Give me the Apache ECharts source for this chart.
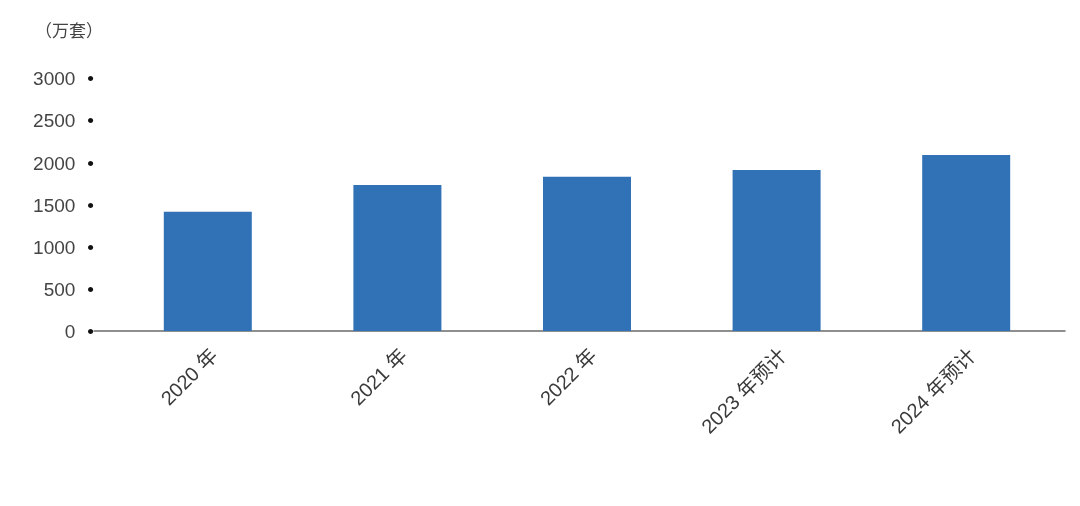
<!DOCTYPE html>
<html>
<head>
<meta charset="utf-8">
<script src="https://cdn.jsdelivr.net/npm/echarts@6/dist/echarts.min.js"></script>
<style>html,body{margin:0;padding:0;background:#fff;}#c{width:1080px;height:506px;}</style>
</head>
<body>
<div id="c"></div>
<script>
var categories = ['2020 年', '2021 年', '2022 年', '2023 年预计', '2024 年预计'];
var values = [1415, 1731, 1830, 1909, 2087];
var unitLabel = '（万套）';

var chart = echarts.init(document.getElementById('c'));
var font = '"Liberation Sans", "Noto Sans CJK SC", sans-serif';
chart.setOption({
  backgroundColor: '#ffffff',
  animation: false,
  title: {
    text: unitLabel, left: 30, top: 19,
    textStyle: { fontSize: 17, fontWeight: 'normal', color: '#444', fontFamily: font }
  },
  grid: [
    { left: 113, right: 19, top: 78, bottom: 175 },
    { left: 94, right: 15, top: 78, bottom: 175 }
  ],
  xAxis: [
    {
      type: 'category', gridIndex: 0, data: categories,
      axisLine: { show: false }, axisTick: { show: false },
      axisLabel: { rotate: 45, margin: 15, fontSize: 20, color: '#3a3a3a', fontFamily: font, interval: 0, verticalAlign: 'top' }
    },
    {
      type: 'category', gridIndex: 1, data: [''],
      axisLine: { show: true, lineStyle: { color: '#6b6b6b', width: 1.5 } },
      axisTick: { show: false }, axisLabel: { show: false }
    }
  ],
  yAxis: [
    {
      type: 'value', gridIndex: 0, min: 0, max: 3000, interval: 500,
      axisLine: { show: false }, axisTick: { show: false }, splitLine: { show: false },
      axisLabel: {
        margin: 19, fontSize: 19, color: '#444', fontFamily: font, padding: [4, 0, 0, 0],
        formatter: function (v) { return '{n|' + v + '}{d|•}'; },
        rich: {
          n: { fontSize: 19, color: '#444', fontFamily: font },
          d: { fontSize: 19, color: '#111', fontFamily: font, padding: [0, 0, 0, 12] }
        }
      }
    },
    {
      type: 'value', gridIndex: 1, min: 0, max: 3000, show: false
    }
  ],
  series: [{
    type: 'bar', xAxisIndex: 0, yAxisIndex: 0, data: values, barWidth: 88,
    itemStyle: { color: '#3171b6' }
  }]
});
</script>
</body>
</html>
